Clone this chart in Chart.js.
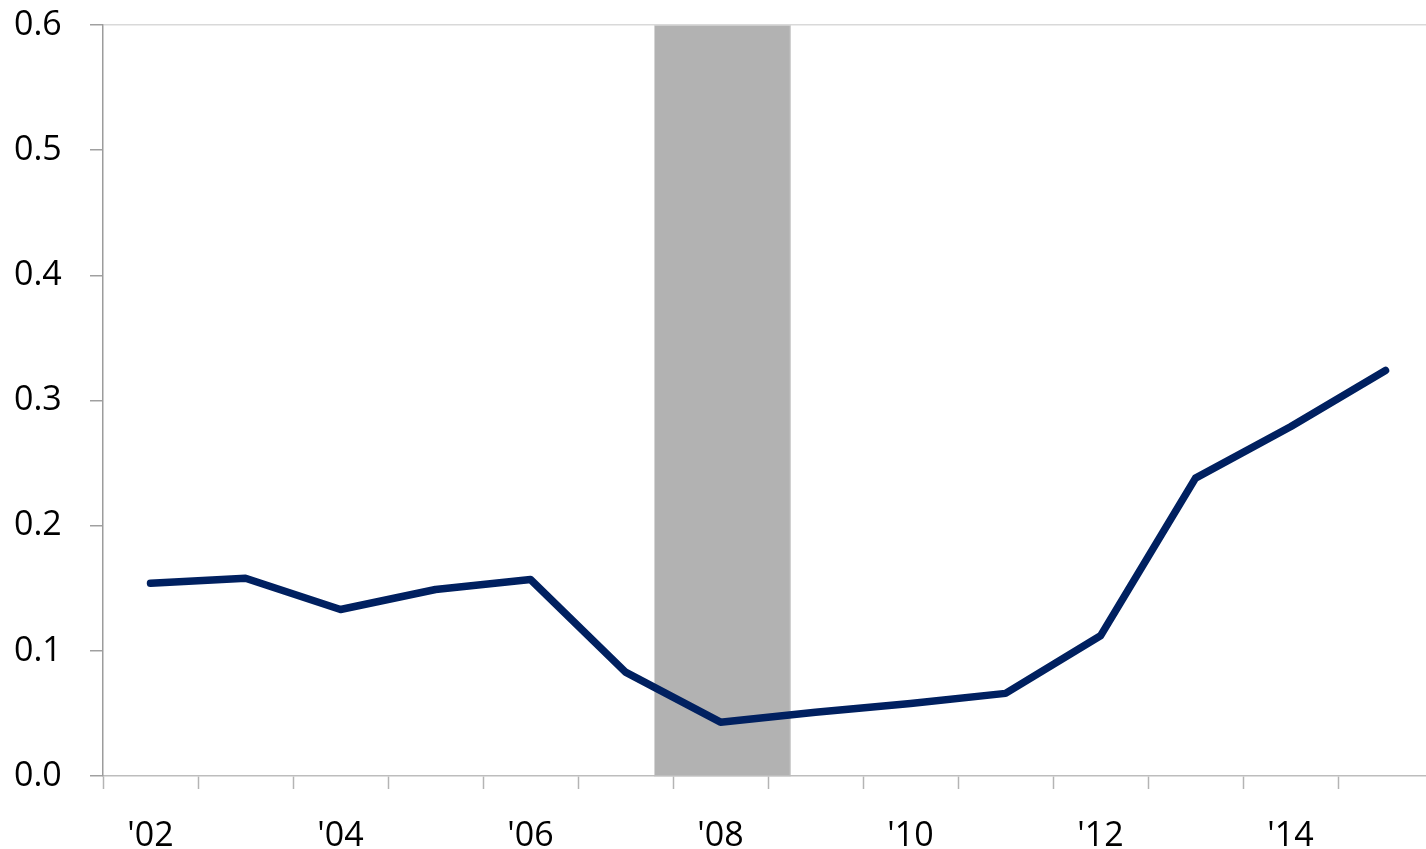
<!DOCTYPE html>
<html>
<head>
<meta charset="utf-8">
<script src="https://cdn.jsdelivr.net/npm/chart.js@4/dist/chart.umd.min.js"></script>
<style>
  html, body { margin: 0; padding: 0; background: #fff; overflow: hidden; }
  #wrap { width: 1440px; height: 849px; }
</style>
</head>
<body>
<div id="wrap"><canvas id="c" width="1440" height="849" style="width:1440px;height:849px"></canvas></div>
<script>
const years = ["'02", "'03", "'04", "'05", "'06", "'07", "'08", "'09", "'10", "'11", "'12", "'13", "'14", "'15"];
const values = [0.154, 0.158, 0.133, 0.149, 0.157, 0.083, 0.043, 0.051, 0.058, 0.066, 0.112, 0.238, 0.279, 0.324];
const recessionStart = 5.30;   // in category-index units
const recessionEnd = 6.74;
const yMin = 0, yMax = 0.6, yStep = 0.1;

const bandPlugin = {
  id: 'recessionBand',
  beforeDraw(chart) {
    const { ctx, chartArea, scales } = chart;
    const x0 = scales.x.getPixelForValue(recessionStart);
    const x1 = scales.x.getPixelForValue(recessionEnd);
    ctx.save();
    ctx.fillStyle = '#b2b2b2';
    ctx.fillRect(x0, chartArea.top, x1 - x0, chartArea.bottom - chartArea.top);
    ctx.strokeStyle = '#d4d4d4';
    ctx.lineWidth = 1;
    ctx.strokeRect(x0 + 0.5, chartArea.top, x1 - x0 - 1, chartArea.bottom - chartArea.top);
    ctx.restore();
  }
};

const font = { family: "'Open Sans', 'Noto Sans', sans-serif", size: 34 };

new Chart(document.getElementById('c'), {
  type: 'line',
  data: {
    labels: years,
    datasets: [{
      data: values,
      borderColor: '#002060',
      borderWidth: 7.5,
      pointRadius: 0,
      pointHoverRadius: 0,
      tension: 0,
      fill: false,
      borderCapStyle: 'round',
      borderJoinStyle: 'round'
    }]
  },
  options: {
    responsive: false,
    animation: false,
    events: [],
    layout: { padding: { top: 25, right: 7, left: 14, bottom: 0 } },
    plugins: { legend: { display: false }, tooltip: { enabled: false } },
    scales: {
      x: {
        type: 'category',
        offset: true,
        afterFit(scale) { scale.height = 73; },
        grid: {
          offset: true,
          drawOnChartArea: false,
          drawTicks: true,
          tickLength: 13,
          tickColor: '#b4b4b4',
          tickWidth: 1.5
        },
        border: { display: true, color: '#bdbdbd', width: 1.5 },
        ticks: {
          autoSkip: false,
          maxRotation: 0,
          minRotation: 0,
          padding: 27,
          color: '#000',
          font: font,
          callback(val, idx) { return idx % 2 === 0 ? this.getLabelForValue(val) : ''; }
        }
      },
      y: {
        min: yMin,
        max: yMax,
        afterFit(scale) { scale.width = 89; },
        grid: {
          drawTicks: true,
          tickLength: 13,
          tickColor: '#a0a0a0',
          tickWidth: 1.5,
          color: (ctx) => (ctx.tick && Math.abs(ctx.tick.value - yMax) < 1e-9) ? '#d9d9d9' : 'rgba(0,0,0,0)',
          lineWidth: 1.5
        },
        border: { display: true, color: '#9c9c9c', width: 1.5 },
        ticks: {
          stepSize: yStep,
          padding: 0,
          crossAlign: 'far',
          color: '#000',
          font: font,
          callback(v) { return Number(v).toFixed(1); }
        }
      }
    }
  },
  plugins: [bandPlugin]
});
</script>
</body>
</html>
